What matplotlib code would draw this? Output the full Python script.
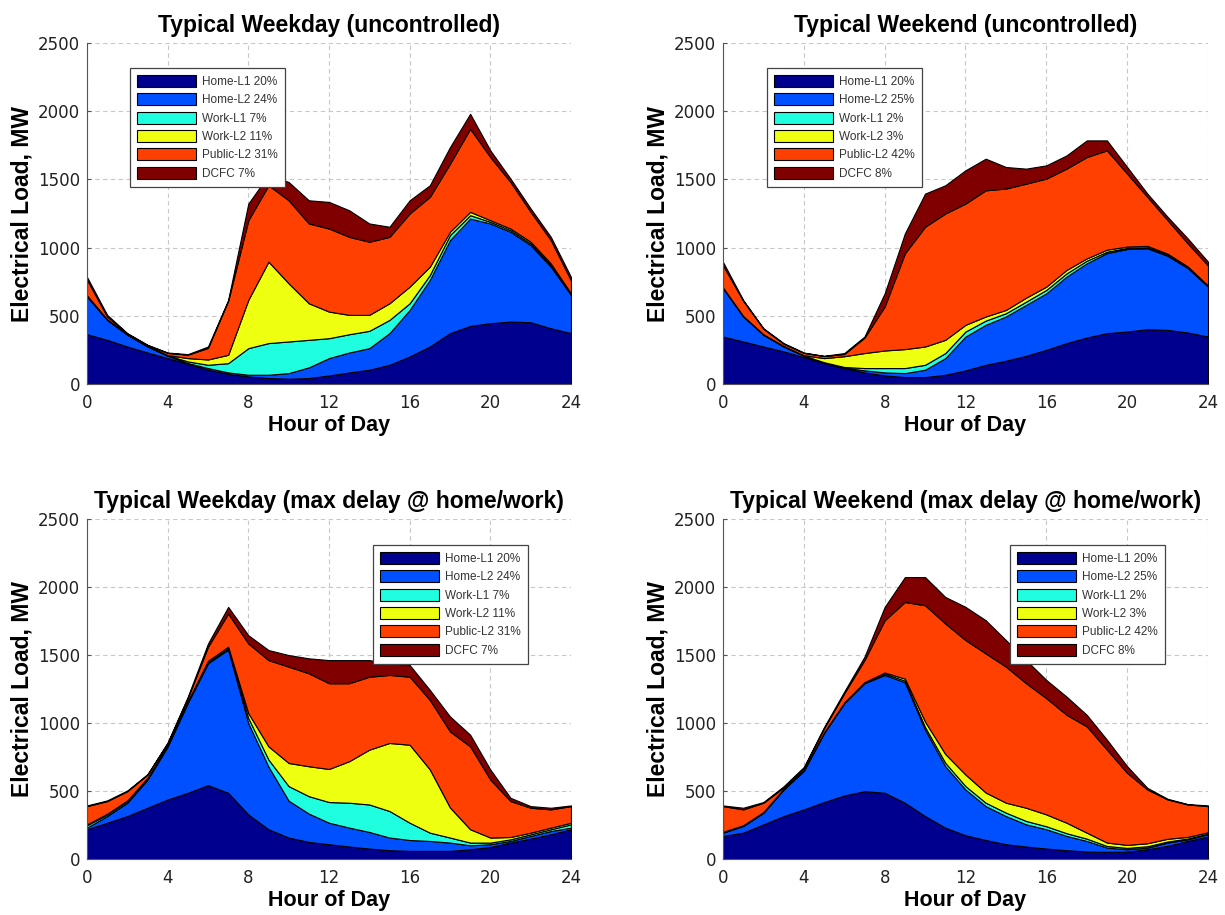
"""
Stacked EV charging load profiles, four scenarios.
"""

import numpy as np
import matplotlib.pyplot as plt

hours = list(range(25))

# ---- Typical Weekday (uncontrolled) ----
wd_home_l1 = [365, 324, 275, 231, 190, 149, 105, 75, 56, 44, 39, 44, 63, 85, 105, 141, 202, 275, 373, 426, 446, 458, 453, 409, 373]
wd_home_l2 = [276, 146, 86, 44, 17, 5, 12, 10, 12, 24, 41, 78, 127, 146, 158, 232, 341, 488, 682, 787, 731, 658, 565, 451, 280]
wd_work_l1 = [4, 2, 2, 3, 3, 12, 24, 68, 195, 232, 232, 202, 146, 134, 127, 97, 49, 36, 37, 25, 12, 12, 12, 12, 7]
wd_work_l2 = [5, 3, 3, 2, 2, 24, 39, 61, 354, 597, 426, 268, 195, 142, 117, 122, 122, 61, 24, 24, 12, 12, 13, 12, 5]
wd_public_l2 = [115, 20, 4, 5, 16, 25, 85, 396, 584, 560, 609, 585, 609, 572, 536, 487, 536, 512, 499, 609, 463, 341, 219, 171, 95]
wd_dcfc = [20, 12, 3, 3, 3, 4, 10, 6, 122, 75, 134, 170, 195, 195, 134, 74, 97, 85, 122, 110, 49, 25, 25, 24, 25]

# ---- Typical Weekend (uncontrolled) ----
we_home_l1 = [348, 312, 275, 239, 197, 154, 117, 85, 63, 51, 51, 68, 100, 141, 171, 207, 251, 300, 341, 373, 385, 402, 397, 378, 348]
we_home_l2 = [354, 183, 86, 36, 10, 4, 3, 15, 22, 29, 54, 122, 248, 293, 324, 373, 414, 487, 544, 587, 605, 593, 543, 472, 366]
we_work_l1 = [3, 2, 2, 2, 2, 2, 5, 17, 32, 37, 36, 37, 37, 31, 24, 24, 25, 24, 19, 10, 8, 8, 8, 6, 4]
we_work_l2 = [3, 2, 2, 2, 2, 30, 79, 110, 129, 139, 134, 97, 49, 30, 24, 29, 24, 25, 17, 15, 10, 10, 8, 6, 5]
we_public_l2 = [162, 111, 40, 16, 17, 15, 16, 113, 322, 702, 878, 926, 889, 925, 890, 836, 792, 743, 743, 728, 534, 359, 245, 169, 147]
we_dcfc = [25, 6, 4, 5, 3, 2, 7, 8, 97, 146, 243, 207, 244, 232, 158, 110, 97, 97, 122, 73, 49, 24, 25, 36, 27]

# ---- Typical Weekday (max delay @ home/work) ----
wdd_home_l1 = [220, 268, 317, 378, 439, 488, 544, 488, 329, 220, 159, 127, 110, 93, 78, 66, 61, 61, 61, 73, 90, 122, 151, 183, 220]
wdd_home_l2 = [12, 49, 98, 207, 390, 662, 896, 1052, 671, 460, 271, 208, 158, 139, 122, 93, 80, 73, 61, 29, 20, 12, 20, 24, 12]
wdd_work_l1 = [17, 12, 12, 5, 5, 5, 8, 10, 37, 52, 107, 128, 152, 183, 202, 195, 127, 61, 37, 20, 12, 12, 12, 13, 24]
wdd_work_l2 = [7, 5, 5, 8, 7, 7, 10, 12, 36, 97, 170, 220, 243, 305, 403, 500, 573, 465, 221, 98, 37, 17, 12, 12, 12]
wdd_public_l2 = [134, 93, 68, 24, 13, 23, 103, 243, 512, 634, 708, 683, 630, 573, 536, 500, 500, 511, 559, 609, 426, 264, 183, 134, 122]
wdd_dcfc = [5, 5, 5, 3, 4, 10, 24, 49, 61, 74, 85, 110, 170, 170, 122, 85, 86, 73, 110, 86, 74, 24, 12, 12, 5]

# ---- Typical Weekend (max delay @ home/work) ----
wed_home_l1 = [171, 195, 256, 317, 366, 420, 468, 500, 488, 415, 317, 232, 176, 141, 110, 93, 78, 66, 56, 54, 56, 73, 98, 134, 166]
wed_home_l2 = [24, 49, 85, 195, 284, 507, 678, 793, 866, 885, 634, 451, 336, 249, 207, 163, 142, 105, 78, 31, 17, 12, 24, 12, 17]
wed_work_l1 = [3, 3, 3, 3, 3, 3, 3, 5, 10, 12, 20, 25, 25, 25, 25, 25, 22, 20, 17, 12, 10, 10, 8, 6, 5]
wed_work_l2 = [3, 3, 3, 3, 3, 3, 3, 3, 8, 15, 40, 65, 85, 75, 73, 97, 87, 77, 44, 25, 22, 22, 20, 12, 10]
wed_public_l2 = [189, 116, 68, 10, 15, 30, 68, 162, 384, 563, 855, 959, 988, 1022, 1000, 915, 854, 793, 781, 683, 529, 395, 289, 238, 192]
wed_dcfc = [5, 12, 5, 8, 7, 8, 12, 25, 98, 183, 207, 195, 244, 244, 195, 170, 134, 134, 85, 73, 49, 12, 5, 3, 5]

labels_weekday = ['Home-L1 20%', 'Home-L2 24%', 'Work-L1 7%', 'Work-L2 11%', 'Public-L2 31%', 'DCFC 7%']
labels_weekend = ['Home-L1 20%', 'Home-L2 25%', 'Work-L1 2%', 'Work-L2 3%', 'Public-L2 42%', 'DCFC 8%']

colors = ['#00008F', '#0050FF', '#1FFFDF', '#EFFF10', '#FF4000', '#800000']

plt.rcParams['font.family'] = ['Liberation Sans', 'DejaVu Sans']

fig = plt.figure(figsize=(12.25, 9.15), dpi=100)

panels = [
    ([0.0710, 0.5803, 0.3951, 0.3727], 'Typical Weekday (uncontrolled)',
     [wd_home_l1, wd_home_l2, wd_work_l1, wd_work_l2, wd_public_l2, wd_dcfc], labels_weekday, (0.089, 0.927)),
    ([0.5902, 0.5803, 0.3959, 0.3727], 'Typical Weekend (uncontrolled)',
     [we_home_l1, we_home_l2, we_work_l1, we_work_l2, we_public_l2, we_dcfc], labels_weekend, (0.091, 0.927)),
    ([0.0710, 0.0610, 0.3951, 0.3718], 'Typical Weekday (max delay @ home/work)',
     [wdd_home_l1, wdd_home_l2, wdd_work_l1, wdd_work_l2, wdd_public_l2, wdd_dcfc], labels_weekday, (0.591, 0.924)),
    ([0.5902, 0.0610, 0.3959, 0.3718], 'Typical Weekend (max delay @ home/work)',
     [wed_home_l1, wed_home_l2, wed_work_l1, wed_work_l2, wed_public_l2, wed_dcfc], labels_weekend, (0.592, 0.924)),
]

for rect, title, layers, labels, leg_pos in panels:
    ax = fig.add_axes(rect)
    ax.stackplot(hours, *layers, colors=colors, labels=labels,
                 edgecolor='black', linewidth=0.8)

    ax.set_xlim(0, 24)
    ax.set_ylim(0, 2500)
    ax.set_xticks(np.arange(0, 25, 4))
    ax.set_yticks(np.arange(0, 2501, 500))
    ax.grid(True, linestyle=(0, (4, 3)), color='#c8c8c8', linewidth=0.8)
    ax.set_axisbelow(True)
    for side in ['top', 'right']:
        ax.spines[side].set_visible(False)
    for side in ['left', 'bottom']:
        ax.spines[side].set_color('#555555')
        ax.spines[side].set_linewidth(0.8)
    ax.tick_params(direction='in', length=3, colors='#555555', labelcolor='#222222')
    ax.tick_params(axis='x', pad=7)
    ax.tick_params(axis='y', pad=5)
    for lbl in ax.get_xticklabels() + ax.get_yticklabels():
        lbl.set_family('DejaVu Sans')
        lbl.set_fontsize(12)

    ax.set_title(title, fontsize=16.5, fontweight='bold', pad=8)
    ax.set_xlabel('Hour of Day', fontsize=15.5, fontweight='bold', labelpad=2)
    ax.set_ylabel('Electrical Load, MW', fontsize=16.5, fontweight='bold', labelpad=3)

    leg = ax.legend(loc='upper left', bbox_to_anchor=leg_pos, fontsize=8.5,
                    fancybox=False, framealpha=1, edgecolor='#444444',
                    handlelength=5.0, handleheight=1.2, labelspacing=0.45,
                    handletextpad=0.5, borderpad=0.6, borderaxespad=0)
    leg.get_frame().set_linewidth(0.9)
    for txt in leg.get_texts():
        txt.set_color('#333333')

fig.savefig('out.png', dpi=100)
